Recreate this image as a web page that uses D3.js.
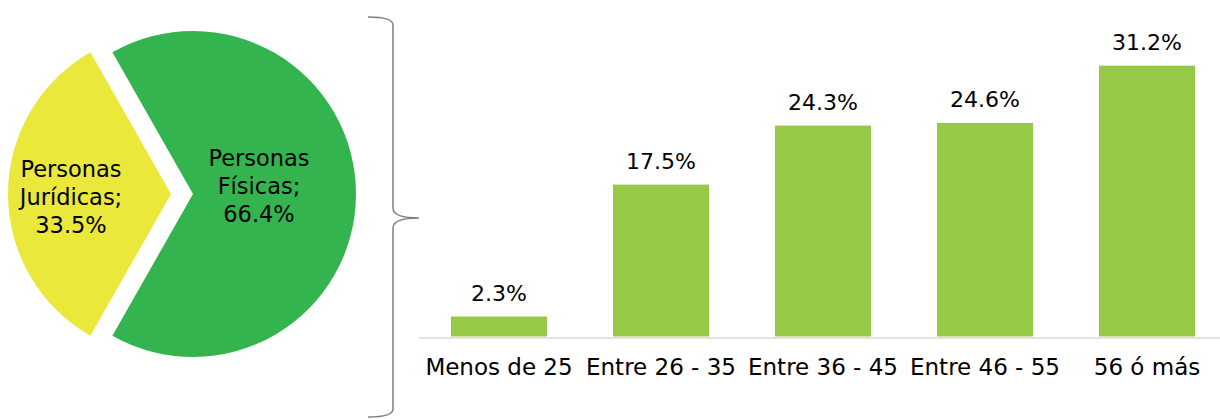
<!DOCTYPE html>
<html>
<head>
<meta charset="utf-8">
<script src="https://cdn.jsdelivr.net/npm/d3@7"></script>
<style>
  body { margin: 0; background: #fff; }
  text { font-family: "DejaVu Sans", sans-serif; fill: #000; }
</style>
</head>
<body>
<div id="chart"></div>
<script>
// pie data
const pieLabels = [["Personas", "Jurídicas;", "33.5%"], ["Personas", "Físicas;", "66.4%"]];
const pieValues = [33.5, 66.4];
const pieColors = ["#e9e83b", "#34b44f"];

// bar data
const ageGroups = ["Menos de 25", "Entre 26 - 35", "Entre 36 - 45", "Entre 46 - 55", "56 ó más"];
const agePct = [2.3, 17.5, 24.3, 24.6, 31.2];
const barColor = "#96c945";

const width = 1220, height = 419;

const svg = d3.select("#chart")
    .append("svg")
    .attr("width", width)
    .attr("height", height);

// ---- pie ----
const total = d3.sum(pieValues);
const theta = 2 * Math.PI * pieValues[0] / total;
// first slice (Jurídicas) centred pointing left
const a0 = 1.5 * Math.PI - theta / 2;

const pie = d3.pie().sort(null).startAngle(a0).endAngle(a0 + 2 * Math.PI);
const arcs = pie(pieValues);
const arc = d3.arc().innerRadius(0).outerRadius(163);

const pieG = svg.append("g").attr("transform", "translate(193,194)");
const explode = [22, 0];

pieG.selectAll("path")
    .data(arcs)
    .join("path")
    .attr("d", arc)
    .attr("fill", (d, i) => pieColors[i])
    .attr("transform", (d, i) => {
        const mid = (d.startAngle + d.endAngle) / 2;
        return `translate(${Math.sin(mid) * explode[i]},${-Math.cos(mid) * explode[i]})`;
    });

// slice labels
const labelPos = [[71, 177], [259, 166]];
pieLabels.forEach((lines, i) => {
    const t = svg.append("text")
        .attr("text-anchor", "middle")
        .attr("font-size", 22.5);
    lines.forEach((ln, j) => {
        t.append("tspan")
            .attr("x", labelPos[i][0])
            .attr("y", labelPos[i][1] + j * 28)
            .text(ln);
    });
});

// brace
svg.append("path")
    .attr("d", "M368,17 Q393,17 393,25 L393,208 Q393,218 419,218 Q393,218 393,228 L393,409 Q393,417 368,417")
    .attr("fill", "none")
    .attr("stroke", "#7f7f7f")
    .attr("stroke-width", 1.5);

// ---- bars ----
const x = d3.scaleBand()
    .domain(ageGroups)
    .range([418, 1228])
    .paddingInner(0.4074)
    .paddingOuter(0.2037);

const y = d3.scaleLinear()
    .domain([0, 35])
    .range([336.5, 32.7]);

const bars = svg.append("g");

bars.selectAll("rect")
    .data(agePct)
    .join("rect")
    .attr("x", (d, i) => x(ageGroups[i]))
    .attr("y", d => y(d))
    .attr("width", x.bandwidth())
    .attr("height", d => y(0) - y(d))
    .attr("fill", barColor);

bars.selectAll("text.val")
    .data(agePct)
    .join("text")
    .attr("class", "val")
    .attr("x", (d, i) => x(ageGroups[i]) + x.bandwidth() / 2)
    .attr("y", d => y(d) - 16)
    .attr("text-anchor", "middle")
    .attr("font-size", 22)
    .text(d => d.toFixed(1) + "%");

// x axis
const xAxis = svg.append("g")
    .attr("transform", `translate(0,${y(0) + 1})`)
    .call(d3.axisBottom(x).tickSize(0).tickPadding(0));

xAxis.select(".domain").attr("stroke", "#d9d9d9").attr("stroke-width", 1.5);
xAxis.selectAll(".tick text")
    .attr("dy", null)
    .attr("y", 37)
    .attr("font-size", 23)
    .attr("font-family", "DejaVu Sans, sans-serif")
    .attr("fill", "#000");
</script>
</body>
</html>
